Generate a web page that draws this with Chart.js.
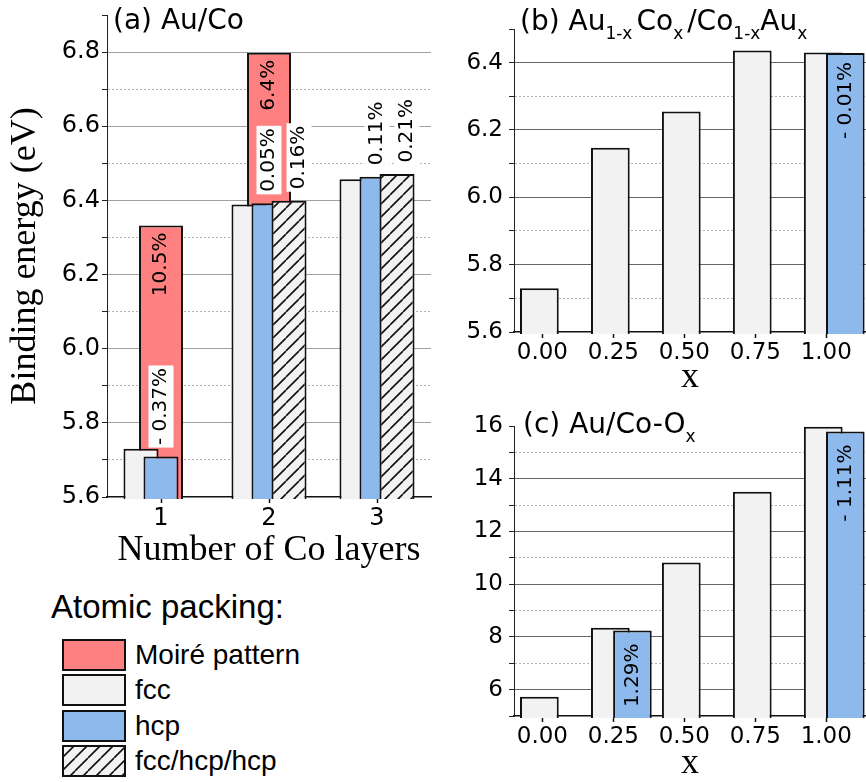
<!DOCTYPE html>
<html>
<head>
<meta charset="utf-8">
<script src="https://cdn.jsdelivr.net/npm/chart.js@4.4.1/dist/chart.umd.min.js"></script>
<style>
  body { margin: 0; background: #fff; }
  #fig { position: relative; width: 866px; height: 782px; overflow: hidden; background: #fff; }
  #fig canvas { position: absolute; }
  .ttl { position: absolute; z-index: 2; white-space: nowrap; color: #000;
         font-family: 'DejaVu Sans', sans-serif; font-size: 28px; line-height: 28px; }
  .ttl sub { font-size: 17px; line-height: 0; vertical-align: -9px; }
  .ttl sub.gap { margin-right: 4px; }
  .leg { position: absolute; white-space: nowrap; color: #000;
         font-family: 'Liberation Sans', Arial, sans-serif; }
</style>
</head>
<body>
<div id="fig">
  <canvas id="chartA" width="440" height="575" style="left:0;top:0"></canvas>
  <canvas id="chartB" width="426" height="400" style="left:440px;top:0"></canvas>
  <canvas id="chartC" width="426" height="382" style="left:440px;top:400px"></canvas>

  <div class="ttl" style="left:113px;top:6px">(a) Au/Co</div>
  <div class="ttl" style="left:520px;top:7px">(b) Au<sub class="gap">1-x</sub>Co<sub class="gap">x</sub>/Co<sub>1-x</sub>Au<sub>x</sub></div>
  <div class="ttl" style="left:523px;top:410px">(c) Au/Co-O<sub>x</sub></div>

  <div class="leg" style="left:51px;top:590px;font-size:33px;line-height:33px">Atomic packing:</div>
  <div id="legend"></div>
</div>

<script>
// ---- data -------------------------------------------------------------
// (a) binding energy vs number of Co layers
const layers      = ['1', '2', '3'];
const moireA      = [6.332, 6.798, null];
const fccA        = [5.730, 6.389, 6.457];
const hcpA        = [5.709, 6.392, 6.464];
const mixedA      = [null, 6.399, 6.471];
const moireNotesA = ['10.5%', '6.4%', null];
const hcpNotesA   = ['- 0.37%', '0.05%', '0.11%'];
const mixedNotesA = [null, '0.16%', '0.21%'];
const energyTicksA = [5.6, 5.8, 6.0, 6.2, 6.4, 6.6, 6.8];

// (b) Au(1-x)Co(x) / Co(1-x)Au(x) alloys
const fractions   = [0, 0.25, 0.5, 0.75, 1.0];
const fccB        = [5.730, 6.147, 6.255, 6.436, 6.430];
const hcpB        = [null, null, null, null, 6.429];
const hcpNotesB   = [null, null, null, null, '- 0.01%'];
const energyTicksB = [5.6, 5.8, 6.0, 6.2, 6.4];

// (c) Au/Co-Ox
const fccC        = [5.73, 8.35, 10.82, 13.51, 15.97];
const hcpC        = [null, 8.24, null, null, 15.79];
const hcpNotesC   = [null, '1.29%', null, null, '- 1.11%'];
const energyTicksC = [6, 8, 10, 12, 14, 16];

// legend
const packingNames = ['Moiré pattern', 'fcc', 'hcp', 'fcc/hcp/hcp'];

// ---- styling ----------------------------------------------------------
const INK = '#111';
const MOIRE_FILL = '#ff8080';
const FCC_FILL = '#f2f2f2';
const HCP_FILL = '#8eb9ec';
const SANS = "'DejaVu Sans', sans-serif";
const SERIF = "'Liberation Serif', 'Times New Roman', serif";

Chart.defaults.font.family = SANS;
Chart.defaults.color = '#000';

function hatchTile() {
  const s = 13;
  const c = document.createElement('canvas');
  c.width = c.height = s;
  const g = c.getContext('2d');
  g.fillStyle = FCC_FILL;
  g.fillRect(0, 0, s, s);
  g.strokeStyle = INK;
  g.lineWidth = 1.6;
  g.beginPath();
  for (const k of [-1, 0, 1]) { g.moveTo(k * s, s); g.lineTo(k * s + s, 0); }
  g.stroke();
  return c;
}
const tile = hatchTile();
const hatchFor = canvas => canvas.getContext('2d').createPattern(tile, 'repeat');

const barStyle = (fill) => ({
  backgroundColor: fill, borderColor: INK, borderWidth: 2, borderSkipped: false
});

// value axis with labelled major ticks (solid grid) and dotted minor ticks
function energyAxis({min, max, step, labelled, digits, width, pad, size, major, title}) {
  const tol = step / 10;
  const isLabelled = v => labelled.some(t => Math.abs(t - v) < tol);
  const atEdge = v => Math.abs(v - min) < tol || Math.abs(v - max) < tol;
  return {
    type: 'linear', min, max,
    afterFit(s) { s.width = width; s.paddingTop = 0; s.paddingBottom = 0; },
    ticks: {
      stepSize: step, autoSkip: false, padding: pad, color: '#000',
      font: { size },
      callback: v => isLabelled(v) ? Number(v).toFixed(digits) : ''
    },
    grid: {
      color: c => (!c.tick || atEdge(c.tick.value)) ? 'rgba(0,0,0,0)'
                 : (isLabelled(c.tick.value) ? major : '#b4b4b4'),
      lineWidth: 1, tickLength: 5, tickColor: '#222', tickWidth: 1
    },
    border: {
      color: '#222', width: 1,
      dash: c => (c.tick && !isLabelled(c.tick.value)) ? [2, 2] : []
    },
    title: title ? {
      display: true, text: title, color: '#000',
      font: { family: SERIF, size: 36, lineHeight: 1 },
      padding: { top: 8, bottom: 0 }
    } : { display: false }
  };
}

function fractionAxis(height, titlePad) {
  return {
    type: 'linear', min: -0.1, max: 1.14, offset: false,
    afterBuildTicks(s) { s.ticks = fractions.map(v => ({ value: v })); },
    afterFit(s) { s.height = height; s.paddingLeft = 0; s.paddingRight = 0; },
    ticks: { color: '#000', font: { size: 23 }, padding: 1, callback: v => Number(v).toFixed(2) },
    grid: { offset: false, drawOnChartArea: false, tickLength: 6, tickColor: INK, tickWidth: 1.5 },
    border: { color: INK, width: 1.5 },
    title: {
      display: true, text: 'x', color: '#000',
      font: { family: SERIF, size: 36, lineHeight: 1 },
      padding: { top: 0, bottom: titlePad }
    }
  };
}

// Bars are painted in dataset order (later ones on top), then the
// rotated percentage notes are written next to them.
const layeredBars = {
  id: 'layeredBars',
  beforeDatasetsDraw(chart, args, opts) {
    const { ctx, chartArea: a } = chart;
    ctx.save();
    ctx.beginPath();
    ctx.rect(a.left - 2, a.top - 2, a.right - a.left + 4, a.bottom - a.top + 4);
    ctx.clip();
    chart.getSortedVisibleDatasetMetas()
      .slice().sort((p, q) => p.index - q.index)
      .forEach(m => m.controller.draw());
    ctx.restore();

    ctx.save();
    ctx.font = '20px ' + SANS;
    ctx.textBaseline = 'middle';
    for (const n of (opts.notes || [])) {
      const meta = chart.getDatasetMeta(n.dataset);
      n.texts.forEach((t, i) => {
        if (!t) return;
        const bar = meta.data[i];
        const x = bar.x + (n.dx || 0);
        ctx.save();
        if (n.mode === 'inside') {
          ctx.translate(x, bar.y + opts.gap);
          ctx.rotate(-Math.PI / 2);
          ctx.textAlign = 'right';
          ctx.fillStyle = '#000';
          ctx.fillText(t, 0, 0);
        } else {
          const w = ctx.measureText(t).width;
          ctx.translate(x, bar.y - 9);
          ctx.rotate(-Math.PI / 2);
          ctx.fillStyle = '#fff';
          ctx.fillRect(0, -12.5, w + 5, 25);
          ctx.textAlign = 'left';
          ctx.fillStyle = '#000';
          ctx.fillText(t, 2.5, 0);
        }
        ctx.restore();
      });
    }
    ctx.restore();
    return false;
  }
};

const common = {
  responsive: false, animation: false, devicePixelRatio: 1, events: [],
  plugins: { legend: { display: false }, tooltip: { enabled: false } }
};

// ---- (a) --------------------------------------------------------------
const canvasA = document.getElementById('chartA');
const grouped = { categoryPercentage: 0.556, barPercentage: 1.75 };
new Chart(canvasA, {
  type: 'bar',
  data: {
    labels: layers,
    datasets: [
      { label: 'Moiré pattern', data: moireA, ...barStyle(MOIRE_FILL),
        grouped: false, categoryPercentage: 1, barPercentage: 0.407 },
      { label: 'fcc', data: fccA, ...barStyle(FCC_FILL), ...grouped },
      { label: 'hcp', data: hcpA, ...barStyle(HCP_FILL), ...grouped },
      { label: 'fcc/hcp/hcp', data: mixedA, ...barStyle(hatchFor(canvasA)), ...grouped }
    ]
  },
  options: {
    ...common,
    layout: { padding: { left: 0, top: 15, right: 9, bottom: 0 } },
    scales: {
      x: {
        type: 'category', offset: true,
        afterFit(s) { s.height = 78; s.paddingLeft = 0; s.paddingRight = 0; },
        ticks: { color: '#000', font: { size: 24 }, padding: 1 },
        grid: { offset: false, drawOnChartArea: false, tickLength: 6, tickColor: INK, tickWidth: 1.5 },
        border: { color: INK, width: 1.5 },
        title: {
          display: true, text: 'Number of Co layers', color: '#000',
          font: { family: SERIF, size: 36, lineHeight: 1 },
          padding: { top: 0, bottom: 6 }
        }
      },
      y: energyAxis({ min: 5.6, max: 6.9, step: 0.1, labelled: energyTicksA, digits: 1,
                      width: 107, pad: 2, size: 24, major: '#a0a0a0',
                      title: 'Binding energy (eV)' })
    },
    plugins: {
      ...common.plugins,
      layeredBars: {
        gap: 7,
        notes: [
          { dataset: 0, texts: moireNotesA, mode: 'inside' },
          { dataset: 2, texts: hcpNotesA, mode: 'above' },
          { dataset: 3, texts: mixedNotesA, mode: 'above', dx: 10 }
        ]
      }
    }
  },
  plugins: [layeredBars]
});

// ---- (b) and (c) ------------------------------------------------------
// fcc sits just left of each x value, hcp overlaps it on the right
const fccSlot = { categoryPercentage: 0.17, barPercentage: 6.42 };
const hcpSlot = { categoryPercentage: 1.074, barPercentage: 1.013 };

new Chart(document.getElementById('chartB'), {
  type: 'bar',
  data: {
    labels: fractions,
    datasets: [
      { label: 'fcc', data: fccB, ...barStyle(FCC_FILL), ...fccSlot },
      { label: 'hcp', data: hcpB, ...barStyle(HCP_FILL), ...hcpSlot }
    ]
  },
  options: {
    ...common,
    layout: { padding: { left: 0, top: 29, right: 0, bottom: 0 } },
    scales: {
      x: fractionAxis(68, 4),
      y: energyAxis({ min: 5.6, max: 6.5, step: 0.1, labelled: energyTicksB, digits: 1,
                      width: 74, pad: 6, size: 23, major: '#666' })
    },
    plugins: {
      ...common.plugins,
      layeredBars: { gap: 9, notes: [{ dataset: 1, texts: hcpNotesB, mode: 'inside' }] }
    }
  },
  plugins: [layeredBars]
});

new Chart(document.getElementById('chartC'), {
  type: 'bar',
  data: {
    labels: fractions,
    datasets: [
      { label: 'fcc', data: fccC, ...barStyle(FCC_FILL), ...fccSlot },
      { label: 'hcp', data: hcpC, ...barStyle(HCP_FILL), ...hcpSlot }
    ]
  },
  options: {
    ...common,
    layout: { padding: { left: 0, top: 26, right: 0, bottom: 0 } },
    scales: {
      x: fractionAxis(66, 0),
      y: energyAxis({ min: 5, max: 16, step: 1, labelled: energyTicksC, digits: 0,
                      width: 74, pad: 6, size: 23, major: '#666' })
    },
    plugins: {
      ...common.plugins,
      layeredBars: { gap: 13, notes: [{ dataset: 1, texts: hcpNotesC, mode: 'inside' }] }
    }
  },
  plugins: [layeredBars]
});

// ---- legend -----------------------------------------------------------
const legend = document.getElementById('legend');
const swatchFills = [MOIRE_FILL, FCC_FILL, HCP_FILL, null];
packingNames.forEach((name, i) => {
  const top = 639 + i * 35.3;
  const sw = document.createElement('canvas');
  sw.width = 64; sw.height = 32;
  sw.style.left = '62px';
  sw.style.top = top + 'px';
  const g = sw.getContext('2d');
  g.fillStyle = swatchFills[i] || g.createPattern(tile, 'repeat');
  g.fillRect(0, 0, 64, 32);
  g.strokeStyle = INK;
  g.lineWidth = 2;
  g.strokeRect(1, 1, 62, 30);
  legend.appendChild(sw);

  const lab = document.createElement('div');
  lab.className = 'leg';
  lab.textContent = name;
  lab.style.left = '135px';
  lab.style.top = top + 'px';
  lab.style.fontSize = '28px';
  lab.style.lineHeight = '32px';
  legend.appendChild(lab);
});
</script>
</body>
</html>
